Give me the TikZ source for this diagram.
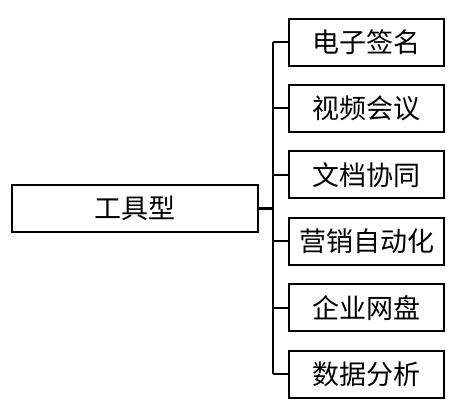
\documentclass[tikz,border=0pt]{standalone}
\usepackage{fontspec}
\newfontfamily\cjk{Noto Sans CJK SC}
\tikzset{
  leafbox/.style={draw, line width=2pt, minimum width=155pt, minimum height=47pt,
    inner sep=0pt, font=\cjk\fontsize{27}{27}\selectfont},
  rootbox/.style={leafbox, minimum width=246pt},
  branch/.style={line width=2pt},
}
\begin{document}
\begin{tikzpicture}[
  x=1pt,
  y=-1pt,
]
\useasboundingbox (0,0) rectangle (470,415);

\node [rootbox] (root) at (135,208.5) {工具型};
\coordinate (trunk) at (273,208.5);

\foreach [count=\i from 0] \t in
                  {电子签名,
                   视频会议,
                   文档协同,
                   营销自动化,
                   企业网盘,
                   数据分析}
  {
   \node [leafbox,
          name=leaf-\i] at (366.5,{42+66.4*\i}) {\t};
   \draw [branch] (leaf-\i.west) -- (leaf-\i.west -| trunk);
  }

\draw [branch] (leaf-0.west -| trunk) -- (leaf-5.west -| trunk);
\draw [branch, line width=3pt] (root.east) -- (trunk);

\end{tikzpicture}
\end{document}
